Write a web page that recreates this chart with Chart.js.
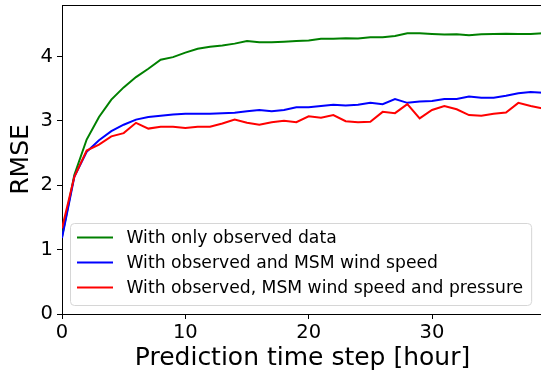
<!DOCTYPE html>
<html>
<head>
<meta charset="utf-8">
<script src="https://cdn.jsdelivr.net/npm/chart.js@4/dist/chart.umd.min.js"></script>
<style>
  html, body { margin: 0; padding: 0; background: #fff; overflow: hidden; }
  #wrap { width: 550px; height: 375px; }
</style>
</head>
<body>
<div id="wrap"><canvas id="rmseChart" width="550" height="375"></canvas></div>
<script>
// dados
const steps = [0, 1, 2, 3, 4, 5, 6, 7, 8, 9, 10, 11, 12, 13, 14, 15, 16, 17, 18, 19,
  20, 21, 22, 23, 24, 25, 26, 27, 28, 29, 30, 31, 32, 33, 34, 35, 36, 37, 38, 39];

const onlyObserved = [1.20, 2.16, 2.71, 3.06, 3.33, 3.52, 3.68, 3.81, 3.95, 3.99,
  4.06, 4.12, 4.15, 4.17, 4.20, 4.24, 4.22, 4.22, 4.23, 4.24,
  4.25, 4.275, 4.275, 4.285, 4.28, 4.30, 4.30, 4.32, 4.36, 4.36,
  4.35, 4.34, 4.345, 4.33, 4.345, 4.35, 4.355, 4.35, 4.35, 4.36];

const withWind = [1.18, 2.13, 2.52, 2.70, 2.84, 2.94, 3.02, 3.06, 3.08, 3.10,
  3.11, 3.11, 3.11, 3.12, 3.125, 3.15, 3.17, 3.15, 3.17, 3.21,
  3.21, 3.23, 3.25, 3.24, 3.25, 3.28, 3.26, 3.34, 3.28, 3.30,
  3.31, 3.34, 3.34, 3.38, 3.36, 3.36, 3.39, 3.43, 3.45, 3.435];

const withWindPressure = [1.33, 2.13, 2.54, 2.63, 2.76, 2.81, 2.97, 2.88, 2.91, 2.91,
  2.89, 2.91, 2.91, 2.96, 3.02, 2.97, 2.94, 2.98, 3.00, 2.98,
  3.07, 3.05, 3.09, 2.995, 2.98, 2.985, 3.14, 3.12, 3.26, 3.04,
  3.17, 3.23, 3.18, 3.09, 3.08, 3.11, 3.13, 3.28, 3.23, 3.19];

const seriesLabels = [
  'With only observed data',
  'With observed and MSM wind speed',
  'With observed, MSM wind speed and pressure'
];
const seriesColors = ['#008000', '#0000ff', '#ff0000'];

const xTitle = 'Prediction time step [hour]';
const yTitle = 'RMSE';

const FONT = "'DejaVu Sans', sans-serif";

// moldura de cima e da direita (estilo matplotlib)
const framePlugin = {
  id: 'frame',
  afterDraw(chart) {
    const { ctx, chartArea: a } = chart;
    ctx.save();
    ctx.strokeStyle = '#000';
    ctx.lineWidth = 1;
    ctx.beginPath();
    ctx.moveTo(a.left, a.top + 0.5);
    ctx.lineTo(a.right, a.top + 0.5);
    ctx.lineTo(a.right - 0.5, a.bottom);
    ctx.stroke();
    ctx.restore();
  }
};

// legenda dentro do gr치fico, canto inferior esquerdo
const innerLegend = {
  id: 'innerLegend',
  afterDatasetsDraw(chart) {
    const { ctx, chartArea: a } = chart;
    const ds = chart.data.datasets;
    ctx.save();
    ctx.font = `17.2px ${FONT}`;
    const textW = Math.max(...ds.map(d => ctx.measureText(d.label).width));
    const rowH = 25;
    const x0 = a.left + 8;
    const w = 7 + 36 + 13.5 + textW + 8;
    const h = 82;
    const y0 = a.bottom - 9 - h;
    ctx.beginPath();
    ctx.roundRect(x0 + 0.5, y0 + 0.5, w, h, 4);
    ctx.fillStyle = 'rgba(255,255,255,0.8)';
    ctx.fill();
    ctx.strokeStyle = '#d6d6d6';
    ctx.lineWidth = 1;
    ctx.stroke();
    ds.forEach((d, i) => {
      const cy = y0 + 14.5 + i * rowH;
      ctx.strokeStyle = d.borderColor;
      ctx.lineWidth = 2;
      ctx.beginPath();
      ctx.moveTo(x0 + 7, cy);
      ctx.lineTo(x0 + 43, cy);
      ctx.stroke();
      ctx.fillStyle = '#000';
      ctx.textBaseline = 'middle';
      ctx.fillText(d.label, x0 + 56.5, cy + 1);
    });
    ctx.restore();
  }
};

const series = [onlyObserved, withWind, withWindPressure];

const ctx = document.getElementById('rmseChart').getContext('2d');
window.rmseChart = new Chart(ctx, {
  type: 'line',
  data: {
    labels: steps,
    datasets: series.map((vals, i) => ({
      label: seriesLabels[i],
      data: steps.map((s, j) => ({ x: s, y: vals[j] })),
      borderColor: seriesColors[i],
      backgroundColor: seriesColors[i],
      borderWidth: 2,
      pointRadius: 0,
      tension: 0,
      order: 3 - i
    }))
  },
  options: {
    responsive: false,
    animation: false,
    devicePixelRatio: 1,
    layout: { padding: { top: 5, right: 7, left: 0, bottom: 0 } },
    plugins: { legend: { display: false }, tooltip: { enabled: false } },
    scales: {
      x: {
        type: 'linear',
        min: 0,
        max: 39,
        ticks: { stepSize: 10, includeBounds: false, color: '#000', font: { family: FONT, size: 19.5 }, padding: 2, maxRotation: 0 },
        grid: { drawOnChartArea: false, tickLength: 5, color: '#000' },
        border: { color: '#000', width: 1 },
        title: { display: true, text: xTitle, color: '#000', font: { family: FONT, size: 25 }, padding: { top: 0, bottom: 2 } },
        afterFit(scale) { scale.height = 61; scale.paddingLeft = 0; scale.paddingRight = 0; }
      },
      y: {
        min: 0,
        max: 4.8,
        ticks: { stepSize: 1, includeBounds: false, color: '#000', font: { family: FONT, size: 19.5 }, padding: 4 },
        grid: { drawOnChartArea: false, tickLength: 5, color: '#000' },
        border: { color: '#000', width: 1 },
        title: { display: true, text: yTitle, color: '#000', font: { family: FONT, size: 25 }, padding: { top: 6.5, bottom: 0 } },
        afterFit(scale) { scale.width = 62; scale.paddingTop = 0; scale.paddingBottom = 0; }
      }
    }
  },
  plugins: [framePlugin, innerLegend]
});
</script>
</body>
</html>
